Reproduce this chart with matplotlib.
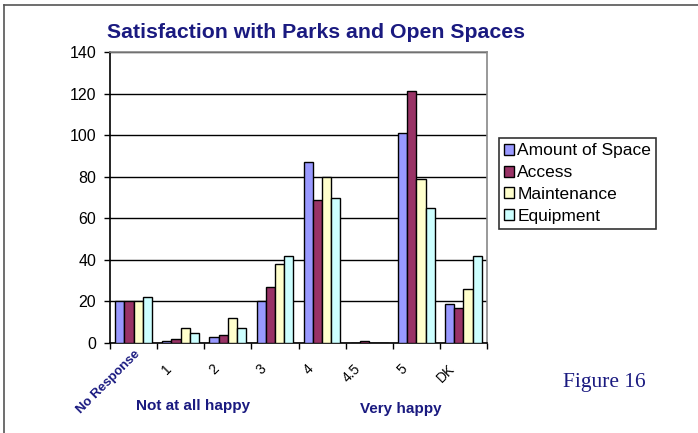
import matplotlib
matplotlib.use("Agg")
import matplotlib.pyplot as plt
import matplotlib.transforms as mtransforms
import numpy as np
from matplotlib.lines import Line2D

categories = ["No Response", "1", "2", "3", "4", "4.5", "5", "DK"]
amount_of_space = [20, 1, 3, 20, 87, 0, 101, 19]
access = [20, 2, 4, 27, 69, 1, 121, 17]
maintenance = [20, 7, 12, 38, 80, 0, 79, 26]
equipment = [22, 5, 7, 42, 70, 0, 65, 42]
series_names = ["Amount of Space", "Access", "Maintenance", "Equipment"]
colors = ["#9999FF", "#993366", "#FFFFCC", "#CCFFFF"]
yticks = [0, 20, 40, 60, 80, 100, 120, 140]

navy = "#1a1a80"
plt.rcParams['font.family'] = ['Liberation Sans', 'DejaVu Sans']

fig = plt.figure(figsize=(6.98, 4.33), dpi=100)
ax = fig.add_axes([110/698, 1-343/433, 377/698, 291/433])

x = np.arange(len(categories))
bw = 0.195
data = [amount_of_space, access, maintenance, equipment]
for i, (vals, c, name) in enumerate(zip(data, colors, series_names)):
    ax.bar(x + (i - 1.5) * bw, vals, width=bw, color=c, edgecolor="black",
           linewidth=1.0, label=name, zorder=3)

ax.set_xlim(-0.5, len(categories) - 0.5)
ax.set_ylim(0, 140)
ax.set_yticks(yticks)
ax.set_yticklabels([str(v) for v in yticks], fontsize=11.5)
ax.yaxis.grid(True, color="black", linewidth=1.0, zorder=0)
ax.set_axisbelow(True)
ax.tick_params(axis='y', direction='out', length=4, width=1, pad=6)

ax.set_xticks(np.arange(len(categories) + 1) - 0.5, minor=False)
ax.set_xticklabels([])
ax.tick_params(axis='x', direction='out', length=4, width=1)
ax.set_xticks(x, minor=True)
ax.tick_params(axis='x', which='minor', length=0)
ax.set_xticklabels(categories, minor=True, rotation=45, ha='right',
                   rotation_mode='anchor', fontsize=10)
shift = mtransforms.ScaledTranslation(-16/100, -14/100, fig.dpi_scale_trans)
for lbl in ax.get_xticklabels(minor=True):
    if lbl.get_text() == "No Response":
        lbl.set_color(navy)
        lbl.set_fontweight("bold")
        lbl.set_fontsize(9.5)
    else:
        lbl.set_transform(lbl.get_transform() + shift)

for s in ["left", "bottom"]:
    ax.spines[s].set_color("black")
    ax.spines[s].set_linewidth(1.2)
for s in ["top", "right"]:
    ax.spines[s].set_color("#888888")
    ax.spines[s].set_linewidth(1.2)

leg = ax.legend(loc="upper left", bbox_to_anchor=(499/698, 1-138/433),
                bbox_transform=fig.transFigure, frameon=True, fancybox=False,
                fontsize=12.5, handlelength=0.55, handleheight=0.6,
                handletextpad=0.2, borderpad=0.3, labelspacing=0.4,
                borderaxespad=0)
leg.get_frame().set_edgecolor("black")
leg.get_frame().set_linewidth(1.2)

fig.text(107/698, 1-33/433, "Satisfaction with Parks and Open Spaces",
         fontsize=15.3, fontweight="bold", color=navy, va="center", ha="left")
fig.text(136/698, 1-406/433, "Not at all happy", fontsize=11,
         fontweight="bold", color=navy, va="center", ha="left")
fig.text(360/698, 1-409/433, "Very happy", fontsize=11,
         fontweight="bold", color=navy, va="center", ha="left")
fig.text(563/698, 1-383/433, "Figure 16", fontsize=15.5, color=navy,
         family="Liberation Serif", va="center", ha="left")

fig.add_artist(Line2D([4/698, 1], [1-5/433, 1-5/433], color="#555555",
                      linewidth=1.2, transform=fig.transFigure))
fig.add_artist(Line2D([4/698, 4/698], [0, 1-5/433], color="#555555",
                      linewidth=1.2, transform=fig.transFigure))

fig.savefig("out.png", dpi=100)
